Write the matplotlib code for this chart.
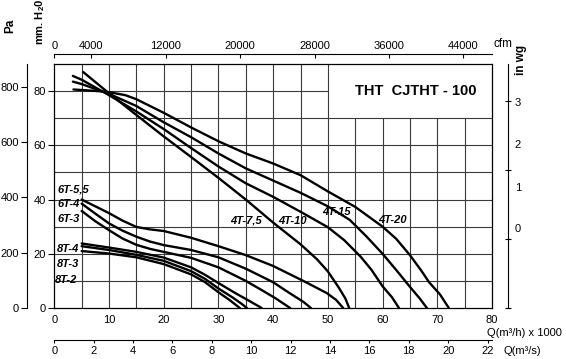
import numpy as np
import matplotlib
matplotlib.use('Agg')
import matplotlib.pyplot as plt
from matplotlib import font_manager as fm

_names = {f.name for f in fm.fontManager.ttflist}
NARROW = 'Liberation Sans Narrow' if 'Liberation Sans Narrow' in _names else 'Liberation Sans'
BASE = 'Liberation Sans'
plt.rcParams['font.family'] = [NARROW, 'DejaVu Sans']
plt.rcParams['mathtext.default'] = 'regular'

# ---------------- data (Q in m3/h x 1000, pressure in mm H2O) ----------------
q_4t20 = [3.5, 5, 8, 10, 13, 15, 20, 25, 30, 35, 40, 45, 50, 55, 60, 62.5, 65, 67, 68.5, 70.5, 72.1]
p_4t20 = [80.6, 80.4, 80.0, 79.6, 78.5, 77.0, 72.0, 66.6, 61.5, 57.0, 53.3, 49.0, 43.0, 37.3, 30.0, 25.5, 19.5, 14.0, 9.5, 5.0, 0]

q_4t15 = [3.4, 5, 10, 15, 20, 25, 30, 35, 40, 45, 50, 54, 57, 60, 62.5, 65, 66.8, 68.1]
p_4t15 = [83.5, 82.6, 79.0, 74.5, 68.5, 63.0, 57.0, 51.5, 47.0, 42.5, 37.5, 32.5, 26.5, 20.0, 14.0, 7.8, 3.5, 0]

q_4t10 = [3.4, 5, 10, 15, 20, 25, 30, 35, 40, 45, 50, 53, 56, 58, 60, 61.7, 63]
p_4t10 = [85.6, 84.2, 78.5, 72.5, 66.0, 59.0, 52.2, 46.0, 41.0, 35.5, 29.8, 25.0, 18.9, 14.0, 8.0, 4.0, 0]

q_4t75 = [5.3, 10, 15, 20, 25, 30, 35, 40, 45, 48, 50, 52, 53.2, 53.9]
p_4t75 = [87.0, 79.2, 71.2, 63.3, 55.7, 48.0, 40.0, 31.5, 23.5, 18.0, 13.5, 7.5, 3.5, 0]

q_6t55 = [5, 7.5, 10, 12.5, 15, 17.5, 20, 25, 30, 35, 40, 43, 46, 49.8, 51.5, 52.8]
p_6t55 = [40.0, 37.5, 35.0, 32.2, 29.9, 29.0, 28.4, 25.9, 22.8, 19.5, 15.5, 12.5, 9.5, 5.5, 3.0, 0]

q_6t4 = [5, 7.5, 10, 12.5, 15, 17.5, 20, 25, 30, 35, 40, 43, 45.5, 46.9]
p_6t4 = [38.5, 34.8, 31.2, 28.5, 26.3, 24.5, 23.2, 21.4, 18.7, 14.5, 9.5, 5.5, 2.3, 0]

q_6t3 = [5, 7.5, 10, 12.5, 15, 17.5, 20, 25, 30, 35, 38, 40.5, 43.1]
p_6t3 = [35.8, 32.0, 28.7, 25.6, 23.3, 21.8, 20.7, 18.5, 15.0, 10.0, 6.5, 3.5, 0]

q_8t4 = [5, 10, 15, 20, 25, 27.5, 30, 33, 36, 37.9]
p_8t4 = [23.8, 22.3, 20.7, 18.6, 15.0, 12.3, 9.2, 5.6, 2.2, 0]

q_8t3 = [5, 10, 15, 20, 25, 27.5, 30, 32.5, 34.2, 35.2]
p_8t3 = [22.8, 21.4, 19.6, 17.4, 13.6, 10.8, 7.2, 4.0, 1.6, 0]

q_8t2 = [5, 10, 15, 20, 25, 27.5, 30, 32, 33.9]
p_8t2 = [21.0, 20.1, 18.7, 16.2, 12.4, 9.6, 5.8, 3.0, 0]

curve_names = ['4T-7,5', '4T-10', '4T-15', '4T-20', '6T-5,5', '6T-4', '6T-3', '8T-4', '8T-3', '8T-2']
curves = [(q_4t75, p_4t75), (q_4t10, p_4t10), (q_4t15, p_4t15), (q_4t20, p_4t20),
          (q_6t55, p_6t55), (q_6t4, p_6t4), (q_6t3, p_6t3),
          (q_8t4, p_8t4), (q_8t3, p_8t3), (q_8t2, p_8t2)]
# label anchor (left edge, vertical centre) in data units
label_q = [32.1, 40.9, 48.9, 59.2, 0.5, 0.5, 0.5, 0.5, 0.5, 0.1]
label_p = [32.2, 32.2, 35.5, 32.4, 43.8, 38.5, 33.0, 21.7, 16.2, 10.5]

title = 'THT  CJTHT - 100'
q_ticks = list(range(0, 81, 10))
mm_ticks = [0, 20, 40, 60, 80]
pa_ticks = [0, 200, 400, 600, 800]
cfm_ticks = [0, 4000, 12000, 20000, 28000, 36000, 44000]
m3s_ticks = list(range(0, 23, 2))
wg_ticks = [0, 1, 2, 3]
wg_labels = ['0', '1', '2', '3']

# ---------------- figure ----------------
W, H = 566, 359
fig = plt.figure(figsize=(W / 100, H / 100), dpi=100)
L, R, T, B = 54.3, 492.0, 64.0, 308.0
ax = fig.add_axes([L / W, 1 - B / H, (R - L) / W, (B - T) / H])
ax.set_xlim(0, 80)
ax.set_ylim(0, 90)

gcol = '#3a3a3a'
for qv in np.arange(5, 80, 5):
    ax.vlines(qv, 0, 70 if qv > 50 else 90, color=gcol, lw=0.8, zorder=1)
for mv in np.arange(10, 90, 10):
    ax.hlines(mv, 0, 50 if mv > 70 else 80, color=gcol, lw=0.8, zorder=1)

for (q, p) in curves:
    ax.plot(q, p, color='black', lw=1.7, solid_capstyle='round', zorder=3)

for name, lq, lp in zip(curve_names, label_q, label_p):
    ax.text(lq, lp, name, ha='left', va='center', fontsize=8, fontweight='bold',
            fontstyle='italic', family=[NARROW, 'DejaVu Sans'], zorder=4)

ax.text(66, 80, title, ha='center', va='center', fontsize=10.5, fontweight='bold',
        family=[BASE, 'DejaVu Sans'], zorder=4)

for s in ax.spines.values():
    s.set_linewidth(0.9)
ax.set_xticks(q_ticks)
ax.set_yticks(mm_ticks)
ax.tick_params(axis='x', length=0, pad=5, labelsize=8)
ax.tick_params(axis='y', direction='out', length=4, width=0.8, pad=2, labelsize=8)

axw = R - L
axh = B - T

# Pa axis (left, outward)
sec_pa = ax.secondary_yaxis(-27.0 / axw, functions=(lambda m: m * 9.81, lambda p: p / 9.81))
sec_pa.set_yticks(pa_ticks)
sec_pa.tick_params(direction='out', length=4, width=0.8, pad=2, labelsize=8)
sec_pa.spines['left'].set_linewidth(0.8)

# in wg axis (right)
sec_wg = ax.secondary_yaxis(1 + 15.7 / axw, functions=(lambda m: m / 25.4, lambda w: w * 25.4))
sec_wg.set_yticks(wg_ticks)
sec_wg.tick_params(which='major', direction='inout', length=4, width=0.8, labelright=False)
sec_wg.set_yticks([1.16, 1.76, 2.38, 2.99], labels=wg_labels, minor=True)
sec_wg.tick_params(which='minor', length=0, pad=5, labelsize=8)
sec_wg.spines['right'].set_linewidth(0.8)

# cfm axis (top)
sec_cfm = ax.secondary_xaxis(1 + 10.0 / axh, functions=(lambda q: q * 588.58, lambda c: c / 588.58))
sec_cfm.set_xticks(cfm_ticks)
sec_cfm.tick_params(direction='in', length=3, width=0.8, pad=2, labelsize=8)
sec_cfm.spines['top'].set_linewidth(0.8)

# m3/s axis (bottom)
sec_s = ax.secondary_xaxis(-32.0 / axh, functions=(lambda q: q / 3.6, lambda s: s * 3.6))
sec_s.set_xticks(m3s_ticks)
sec_s.tick_params(direction='out', length=2.5, width=0.8, pad=2, labelsize=8)
sec_s.spines['bottom'].set_linewidth(0.8)

def ftext(x, y, s, **kw):
    fig.text(x / W, 1 - y / H, s, **kw)

ftext(10, 26, 'Pa', rotation=90, ha='center', va='center', fontsize=8.5, fontweight='bold')
ftext(40, 22, 'mm. H$_2$0', rotation=90, ha='center', va='center', fontsize=8, fontweight='bold')
ftext(521, 60, 'in wg', rotation=90, ha='center', va='center', fontsize=8.5, fontweight='bold')
ftext(493, 44, 'cfm', ha='left', va='center', fontsize=8.5)
ftext(487, 333, 'Q(m³/h) x 1000', ha='left', va='center', fontsize=8)
ftext(503, 351, 'Q(m³/s)', ha='left', va='center', fontsize=8)

fig.savefig('out.png', dpi=100, facecolor='white')
